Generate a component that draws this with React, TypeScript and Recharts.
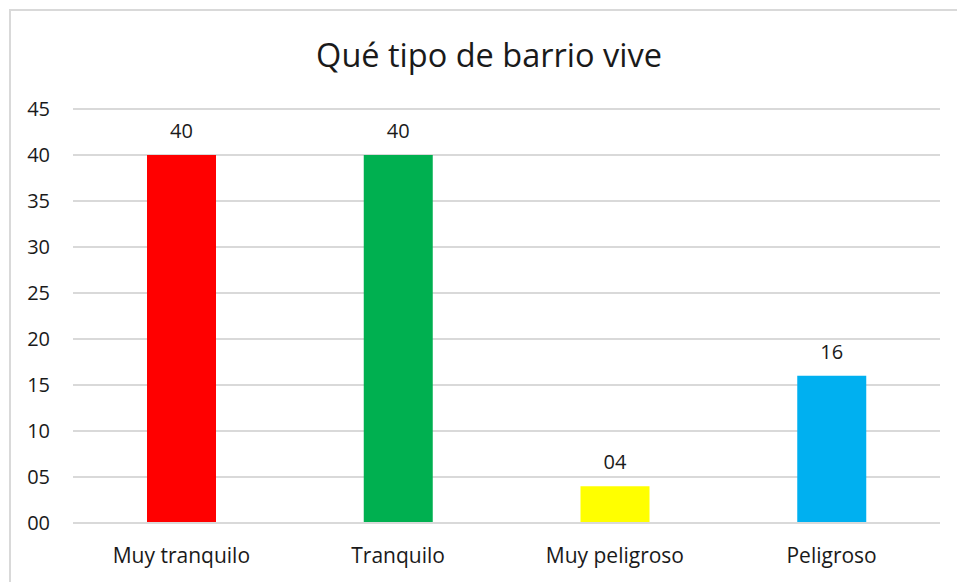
import { Bar, BarChart, CartesianGrid, Cell, LabelList, XAxis, YAxis } from 'recharts'

const categories = ['Muy tranquilo', 'Tranquilo', 'Muy peligroso', 'Peligroso']
const values = [40, 40, 4, 16]
const colors = ['#FF0000', '#00B050', '#FFFF00', '#00B0F0']
const yTicks = [0, 5, 10, 15, 20, 25, 30, 35, 40, 45]

const data = categories.map((name, i) => ({ name, value: values[i] }))

const pad = (v: number | string) => String(v).padStart(2, '0')

const font = "'Open Sans', 'Noto Sans', sans-serif"

export default function App() {
  return (
    <div style={{ position: 'absolute', left: 0, top: 0, width: 957, height: 582, background: '#fff', overflow: 'hidden', fontFamily: font }}>
      <div style={{ position: 'absolute', left: 9, top: 9, width: 1000, height: 700, border: '2px solid #D9D9D9', boxSizing: 'border-box' }} />
      <div style={{ position: 'absolute', left: 0, top: 33, width: 978, textAlign: 'center', fontSize: 32.5, lineHeight: '44px', color: '#1a1a1a' }}>
        Qué tipo de barrio vive
      </div>
      <div style={{ position: 'absolute', left: 0, top: 0 }}>
        <BarChart
          width={957}
          height={582}
          data={data}
          margin={{ top: 109, right: 17, left: 9, bottom: 29 }}
          barSize={69}
        >
          <CartesianGrid horizontal vertical={false} stroke='#D9D9D9' strokeWidth={2} />
          <XAxis
            dataKey='name'
            height={30}
            axisLine={{ stroke: '#D9D9D9', strokeWidth: 2 }}
            tickLine={false}
            tickSize={0}
            tickMargin={25}
            tick={{ fill: '#1a1a1a', fontSize: 21, fontFamily: font }}
          />
          <YAxis
            width={64}
            domain={[0, 45]}
            ticks={yTicks}
            axisLine={false}
            tickLine={false}
            tickSize={0}
            tickMargin={23}
            tickFormatter={pad}
            tick={{ fill: '#1a1a1a', fontSize: 20, fontFamily: font }}
          />
          <Bar dataKey='value' isAnimationActive={false}>
            {data.map((d, i) => (
              <Cell key={d.name} fill={colors[i]} />
            ))}
            <LabelList
              dataKey='value'
              position='top'
              offset={17}
              formatter={(v: any) => pad(v)}
              style={{ fill: '#1a1a1a', fontSize: 20, fontFamily: font }}
            />
          </Bar>
        </BarChart>
      </div>
    </div>
  )
}
